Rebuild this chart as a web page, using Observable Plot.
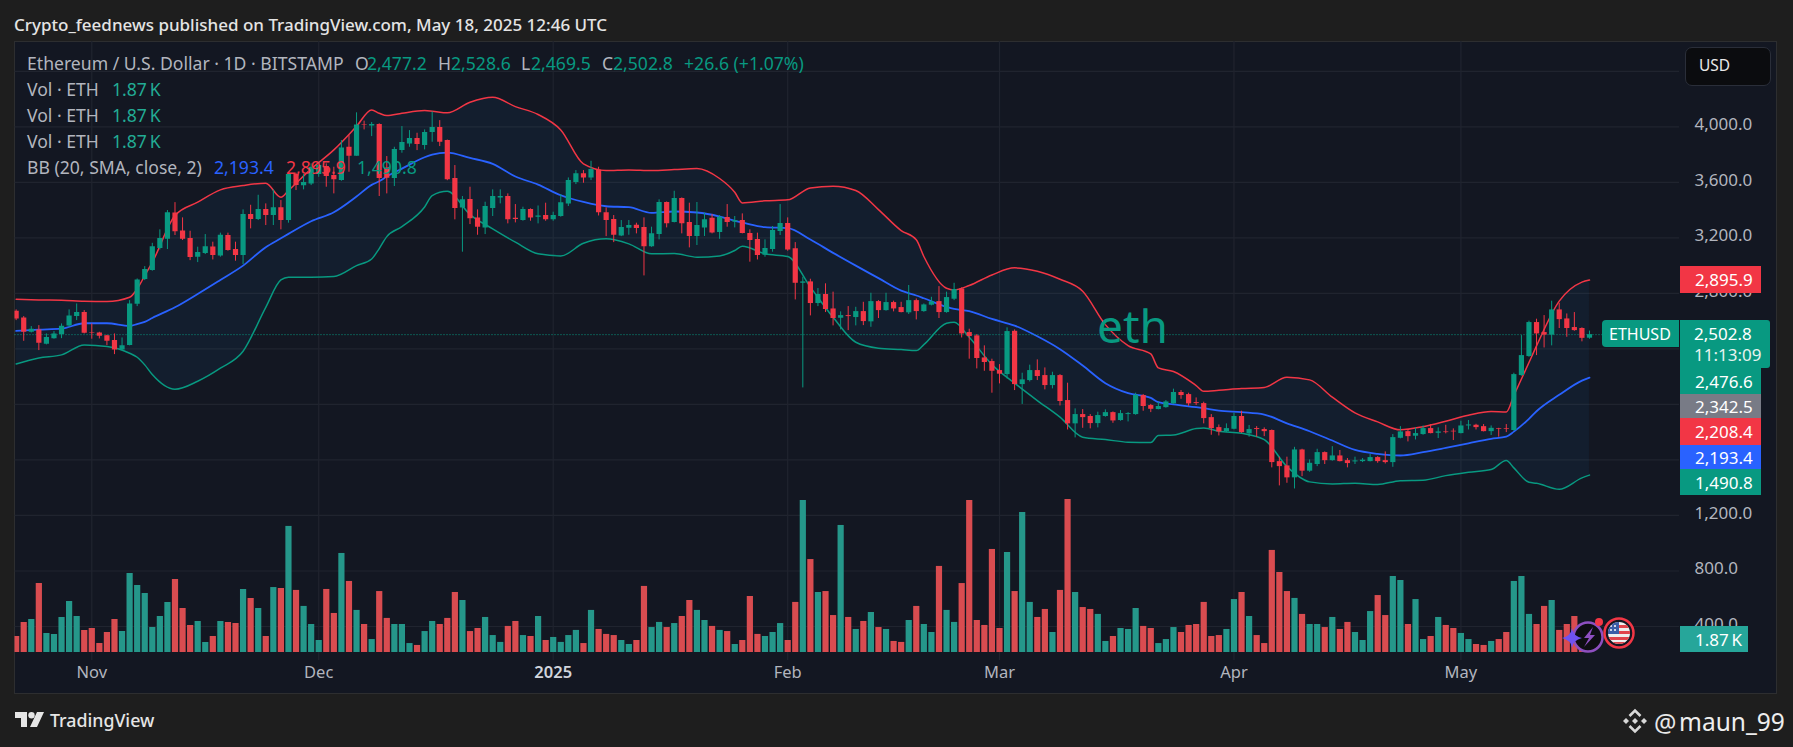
<!DOCTYPE html>
<html>
<head>
<meta charset="utf-8">
<script src="https://cdn.jsdelivr.net/npm/d3@7"></script>
<script src="https://cdn.jsdelivr.net/npm/@observablehq/plot@0.6"></script>
<style>
html,body{margin:0;padding:0;background:#1e1e1e;overflow:hidden}
#page{position:relative;width:1793px;height:747px;overflow:hidden;font-family:"Noto Sans",sans-serif;background:#1e1e1e}
#panel{position:absolute;left:14px;top:41px;width:1763px;height:653px;background:#131722;box-sizing:border-box;border:1.5px solid #2d2e30}
svg.layer{position:absolute;left:0;top:0}
.t{position:absolute;white-space:nowrap;line-height:1;transform:translateY(-50%)}
.tag{position:absolute;box-sizing:border-box;color:#fff;font-size:17px;padding-left:15px;white-space:nowrap;display:flex;align-items:center}
</style>
</head>
<body>
<div id="page"><div id="panel"></div></div>
<script>
// Daily OHLC, Oct 22 2024 to May 18 2025
const open = [
2671,2623,2520,2537,2434,2474,2503,2566,2633,2662,
2515,2515,2494,2460,2393,2424,2722,2900,2965,3123,
3190,3380,3250,3195,3061,3087,3135,3070,3217,3116,
3073,3368,3332,3404,3361,3418,3325,3656,3575,3589,
3656,3714,3649,3613,3853,3788,4014,4007,4017,3704,
3627,3829,3877,3916,3865,3959,3995,3901,3627,3416,
3476,3344,3272,3411,3488,3498,3342,3325,3404,3349,
3361,3330,3354,3445,3599,3663,3632,3690,3382,3332,
3214,3269,3291,3274,3137,3224,3455,3310,3483,3310,
3210,3272,3342,3238,3347,3315,3325,3231,3188,3075,
3116,3246,3303,3121,2873,2883,2727,2792,2688,2621,
2640,2626,2669,2595,2741,2676,2734,2698,2660,2748,
2669,2715,2741,2662,2758,2832,2518,2494,2335,2309,
2244,2215,2527,2143,2172,2244,2208,2136,2208,2028,
1860,1927,1913,1862,1913,1941,1884,1927,1927,2064,
1992,1963,1977,2004,2086,2071,2013,2006,1905,1833,
1804,1821,1913,1788,1826,1819,1812,1588,1557,1471,
1672,1519,1567,1653,1595,1629,1595,1586,1588,1588,
1617,1595,1581,1756,1804,1771,1783,1826,1792,1802,
1807,1790,1845,1850,1840,1804,1826,1826,1812,2208,
2345,2590,2518,2499,2681,2616,2554,2547,2477.2];
const high = [
2681,2633,2561,2568,2508,2525,2580,2681,2724,2676,
2580,2520,2498,2508,2479,2748,2904,2993,3161,3258,
3397,3454,3344,3248,3133,3224,3169,3234,3234,3169,
3402,3435,3507,3445,3546,3469,3666,3666,3656,3733,
3745,3733,3709,3901,3937,4101,4041,4031,4022,3786,
3853,4002,3973,3954,3978,4108,4045,3905,3721,3498,
3565,3402,3457,3546,3546,3517,3440,3421,3409,3430,
3450,3385,3512,3632,3685,3685,3752,3709,3416,3361,
3325,3325,3306,3344,3277,3474,3459,3536,3488,3450,
3455,3378,3368,3361,3440,3354,3373,3258,3234,3186,
3282,3440,3344,3166,2917,2902,2835,2869,2809,2667,
2705,2700,2736,2801,2748,2801,2744,2736,2857,2760,
2724,2772,2849,2809,2873,2840,2542,2503,2422,2326,
2287,2552,2537,2225,2283,2321,2263,2232,2215,2153,
1968,1963,1927,1944,1961,1946,1956,1941,2081,2071,
2000,2016,2028,2110,2100,2081,2047,2016,1927,1852,
1860,1937,1951,1848,1840,1831,1816,1620,1620,1691,
1677,1600,1677,1658,1696,1668,1610,1620,1610,1639,
1624,1658,1783,1840,1819,1831,1845,1855,1831,1850,
1824,1879,1884,1857,1855,1845,1828,1855,2225,2496,
2600,2614,2640,2744,2729,2652,2662,2552,2528.6];
const low = [
2604,2455,2515,2388,2429,2470,2474,2556,2604,2508,
2470,2472,2424,2359,2388,2422,2705,2892,2960,3113,
3116,3217,3181,3036,3022,3080,3041,3061,3104,3032,
3008,3265,3325,3289,3289,3258,3306,3541,3546,3577,
3637,3565,3517,3608,3673,3788,3978,3930,3498,3517,
3570,3810,3853,3829,3834,3889,3858,3612,3330,3097,
3296,3219,3224,3354,3445,3301,3308,3320,3320,3301,
3320,3320,3349,3426,3584,3594,3613,3358,3209,3166,
3209,3219,3229,2926,3132,3186,3272,3308,3229,3128,
3145,3210,3229,3190,3277,3272,3229,3025,3041,3061,
3097,3217,3104,2753,2119,2638,2705,2662,2566,2537,
2532,2566,2568,2556,2619,2672,2667,2660,2648,2609,
2664,2710,2619,2657,2748,2479,2326,2256,2239,2081,
2148,2184,2100,2000,2162,2172,2105,2112,1989,1816,
1759,1828,1824,1831,1908,1864,1879,1874,1922,1951,
1941,1961,1973,2000,2037,1987,1992,1860,1778,1773,
1797,1817,1792,1764,1764,1768,1543,1413,1432,1391,
1480,1511,1552,1567,1591,1586,1543,1567,1581,1586,
1576,1571,1547,1752,1730,1744,1778,1788,1754,1788,
1740,1788,1816,1816,1802,1776,1764,1797,1807,2203,
2340,2352,2407,2422,2547,2484,2527,2451,2469.5];
const close = [
2616,2520,2542,2441,2482,2508,2563,2638,2662,2513,
2511,2491,2455,2393,2422,2724,2897,2972,3137,3195,
3382,3245,3190,3058,3094,3137,3073,3219,3109,3073,
3368,3332,3404,3361,3418,3325,3656,3577,3599,3709,
3721,3642,3618,3848,3788,4014,4009,4017,3627,3630,
3836,3887,3916,3872,3959,3995,3889,3618,3411,3474,
3337,3277,3426,3498,3498,3330,3332,3404,3344,3358,
3330,3361,3454,3613,3663,3632,3692,3382,3325,3219,
3274,3289,3267,3137,3229,3455,3301,3483,3301,3210,
3289,3330,3236,3349,3310,3325,3231,3181,3073,3123,
3253,3303,3113,2873,2883,2727,2792,2684,2619,2640,
2633,2669,2597,2741,2676,2734,2688,2662,2748,2669,
2717,2739,2662,2770,2828,2508,2489,2331,2302,2239,
2218,2525,2143,2177,2244,2201,2136,2208,2021,1860,
1927,1905,1862,1920,1941,1881,1934,1934,2066,1985,
1965,1985,2018,2086,2064,2004,2006,1898,1826,1802,
1826,1913,1797,1819,1819,1804,1581,1552,1471,1672,
1519,1576,1653,1595,1629,1588,1574,1593,1598,1617,
1588,1581,1761,1802,1768,1790,1826,1790,1802,1797,
1802,1845,1852,1833,1804,1828,1821,1821,2215,2352,
2590,2508,2499,2681,2611,2547,2532,2476.2,2502.8];
// Volume, thousands of ETH
const volume = [
10,18.8,20.6,43.1,11.9,11.3,21.9,31.9,22.5,13.8,
15,5.6,12.5,20.6,13.1,49.4,41.9,36.9,15.6,22.5,
31.3,45.6,27.5,16.9,19.4,6.3,10,19.4,18.8,18.1,
39.4,33.8,27.5,10,40.6,40,78.8,38.8,28.8,17.5,
7.5,39.4,24.4,61.9,44.4,26.3,17.5,8.1,38.1,21.3,
17.5,17.5,5.6,4.4,13.1,19.4,17.5,21.3,37.5,32.5,
13.1,15,21.9,10.6,6.3,16.3,19.4,10.6,10,22.5,
7.5,9.4,6.3,10.6,13.8,5.6,26.3,14.4,11.3,10.6,
7.5,5,7.5,41.3,15.6,18.8,15.6,18.1,22.5,32.5,
26.3,20,16.3,13.8,13.1,5,7.5,35,11.3,10,
12.5,18.1,7.5,31.3,95,58.1,37.5,38.1,23.1,79.4,
21.9,14.4,19.4,25,15.6,14.4,6.9,6.3,20,28.8,
17.5,12.5,53.8,26.3,18.8,43.1,95,20,16.9,64.4,
15,62.5,38.1,87.5,31.3,21.9,26.9,12.5,38.8,95.6,
37.5,28.1,26.9,23.8,6.9,10,15,14.4,27.5,16.3,
15,5.6,8.1,15.6,12.5,16.9,17.5,31.3,10,10.6,
14.4,33.1,37.5,22.5,10.6,5.6,63.8,50,38.1,33.8,
23.8,17.5,17.5,15.6,21.9,14.4,18.8,12.5,7.5,25.6,
35.6,23.1,47.5,45,17.5,33.1,8.1,10,21.9,16.9,
15,11.9,8.1,5,4.4,6.9,8.1,12.5,44.4,47.5,
23.8,17.5,28.8,32.5,13.8,17.5,22.5,11.5,1.87];
// Bollinger bands, read at these bar numbers
const bbBars = [0,3,6,9,12,15,16,17,18,21,24,27,30,33,35,36,39,42,45,47,48,49,51,54,55,57,60,63,66,69,72,75,78,81,84,87,90,93,95,96,99,102,105,108,111,114,117,119,120,123,124,126,129,132,135,138,141,144,147,150,151,153,156,157,159,162,165,168,171,174,177,180,183,186,189,192,195,197,198,200,201,204,207,208];
const bbUpper = [2758,2753,2751,2743,2741,2772,2832,2928,3024,3361,3457,3546,3577,3594,3493,3541,3697,3834,4004,4122,4098,4081,4098,4117,4113,4101,4177,4213,4146,4089,3978,3733,3685,3690,3685,3692,3700,3628,3529,3452,3467,3474,3560,3572,3541,3404,3253,3186,3066,2837,2825,2857,2933,2984,2960,2902,2816,2575,2424,2364,2263,2237,2136,2095,2102,2114,2122,2196,2177,2052,1939,1874,1817,1840,1879,1922,1949,1946,2064,2302,2422,2744,2881,2895.9];
const bbMiddle = [2530,2539,2546,2585,2585,2566,2579,2595,2623,2700,2796,2897,3000,3133,3197,3229,3320,3385,3498,3582,3608,3642,3699,3781,3800,3815,3776,3733,3642,3584,3507,3459,3428,3421,3380,3390,3383,3354,3322,3310,3277,3270,3188,3092,3000,2910,2820,2785,2765,2703,2688,2672,2616,2568,2491,2398,2280,2153,2081,2047,2016,2000,1980,1973,1956,1944,1927,1864,1807,1740,1672,1644,1632,1656,1687,1720,1752,1768,1804,1896,1951,2069,2172,2193.4];
const bbLower = [2292,2335,2357,2429,2417,2369,2340,2285,2215,2109,2167,2261,2383,2700,2897,2916,2916,2921,3000,3048,3123,3209,3281,3423,3505,3536,3368,3265,3169,3085,3070,3161,3193,3157,3085,3087,3061,3070,3109,3140,3085,3066,2845,2628,2448,2405,2395,2388,2431,2585,2592,2484,2287,2153,2028,1908,1764,1747,1728,1725,1776,1780,1826,1831,1807,1792,1747,1552,1442,1427,1432,1423,1451,1454,1487,1511,1531,1596,1543,1439,1432,1389,1471,1490.8];
// Axis ticks
const priceTicks = [4000,3600,3200,2800,2400,2000,1600,1200,800,400];
const gridTicks = [4400].concat(priceTicks);
const lastPrice = 2502.8;
const monthNames = {"10":"Nov","11":"Dec","1":"Feb","2":"Mar","3":"Apr","4":"May"};
const monthTicks = [new Date(Date.UTC(2024,10,1)),new Date(Date.UTC(2024,11,1)),new Date(Date.UTC(2025,1,1)),new Date(Date.UTC(2025,2,1)),new Date(Date.UTC(2025,3,1)),new Date(Date.UTC(2025,4,1))];
const yearTicks = [new Date(Date.UTC(2025,0,1))];

const FONT = '"Noto Sans",sans-serif';
const GREEN = "#089981", RED = "#f23645", BLUE = "#2962ff", VGREEN = "#25978a", VRED = "#d94c50", GRID = "#20242f", AXIS = "#b2b5be";
const day = i => new Date(Date.UTC(2024,9,22) + i*864e5);
const bars = open.map((o,i)=>({date:day(i),open:o,high:high[i],low:low[i],close:close[i],vol:volume[i],up:close[i]>=o}));
const bands = bbBars.map((b,i)=>({date:day(b),u:bbUpper[i],m:bbMiddle[i],l:bbLower[i]}));
const xDomain = [day(-0.152), day(219.9)];
const colorOf = (a,b)=>d=>d.up?a:b;
const CURVE = "monotone-x";

const pricePlot = Plot.plot({
  width:1793,height:747,
  marginLeft:14.5,marginRight:114,marginTop:41,marginBottom:87,
  x:{type:"utc",domain:xDomain,axis:null},
  y:{domain:[155,4615],axis:null},
  style:{background:"transparent",fontFamily:FONT},
  marks:[
    Plot.ruleY(gridTicks,{stroke:GRID,strokeWidth:1.2}),
    Plot.ruleX(monthTicks.concat(yearTicks),{stroke:GRID,strokeWidth:1.2}),
    Plot.axisY(priceTicks,{anchor:"right",tickSize:0,tickPadding:15,fontSize:17,color:AXIS,label:null,dy:-2,tickFormat:d3.format(",.1f")}),
    Plot.axisX(monthTicks,{anchor:"bottom",tickSize:0,tickPadding:6,fontSize:16.5,color:AXIS,label:null,tickFormat:d=>monthNames[d.getUTCMonth()]}),
    Plot.axisX(yearTicks,{anchor:"bottom",tickSize:0,tickPadding:6,fontSize:16.5,fontWeight:600,color:"#d1d4dc",label:null,tickFormat:d=>String(d.getUTCFullYear())}),
    Plot.areaY(bands,{x:"date",y1:"l",y2:"u",fill:"#2196f3",fillOpacity:0.06,curve:CURVE}),
    Plot.lineY(bands,{x:"date",y:"u",stroke:RED,strokeWidth:1.5,curve:CURVE}),
    Plot.lineY(bands,{x:"date",y:"m",stroke:BLUE,strokeWidth:1.8,curve:CURVE}),
    Plot.lineY(bands,{x:"date",y:"l",stroke:GREEN,strokeWidth:1.5,curve:CURVE}),
    Plot.ruleY([lastPrice],{stroke:GREEN,strokeWidth:1,strokeDasharray:"1,2"}),
    Plot.ruleX(bars,{x:"date",y1:"low",y2:"high",stroke:colorOf(GREEN,RED),strokeWidth:1,clip:true}),
    Plot.ruleX(bars,{x:"date",y1:"open",y2:"close",stroke:colorOf(GREEN,RED),strokeWidth:5.2,clip:true})
  ]
});
pricePlot.classList.add("layer");

const volumePlot = Plot.plot({
  width:1793,height:747,
  marginLeft:14.5,marginRight:114,marginTop:492,marginBottom:95,
  x:{type:"utc",domain:xDomain,axis:null},
  y:{domain:[0,100],axis:null},
  style:{background:"transparent",fontFamily:FONT},
  marks:[
    Plot.ruleX(bars,{x:"date",y1:0,y2:"vol",stroke:colorOf(VGREEN,VRED),strokeWidth:6.2,clip:true})
  ]
});
volumePlot.classList.add("layer");

const page = document.getElementById("page");
page.appendChild(pricePlot);
page.appendChild(volumePlot);

function text(str,x,y,size,color,extra){
  const d=document.createElement("div");d.className="t";d.textContent=str;
  d.style.left=x+"px";d.style.top=y+"px";d.style.fontSize=size+"px";d.style.color=color;
  if(extra)Object.assign(d.style,extra);page.appendChild(d);return d;
}
function tag(str,x,y,w,h,bg,extra){
  const d=document.createElement("div");d.className="tag";d.textContent=str;
  Object.assign(d.style,{left:x+"px",top:y+"px",width:w+"px",height:h+"px",background:bg},extra||{});
  page.appendChild(d);return d;
}
const LG="#b2b5be", VV="#22ab94", LF=17.6;
text("Crypto_feednews published on TradingView.com, May 18, 2025 12:46 UTC",14,23.5,17,"#e4e4e4",{fontWeight:500});
text("Ethereum / U.S. Dollar · 1D · BITSTAMP",27,64,LF,LG);
[["O",355,LG],["2,477.2",367,GREEN],["H",438,LG],["2,528.6",451,GREEN],["L",521,LG],["2,469.5",531,GREEN],["C",602,LG],["2,502.8",613,GREEN],["+26.6 (+1.07%)",684,GREEN]].forEach(r=>text(r[0],r[1],64,LF,r[2]));
[90,116,142].forEach(y=>{text("Vol · ETH",27,y,LF,LG);text("1.87\u2009K",112,y,LF,VV);});
text("BB (20, SMA, close, 2)",27,168,LF,LG);
text("2,193.4",214,168,LF,BLUE);text("2,895.9",286,168,LF,RED);text("1,490.8",357,168,LF,GREEN);
text("eth",1097,325,46,GREEN);

// USD button
const usd=document.createElement("div");
Object.assign(usd.style,{position:"absolute",left:"1685px",top:"47px",width:"86px",height:"39px",boxSizing:"border-box",background:"#0b0c0f",border:"1.5px solid #2a2e39",borderRadius:"7px"});
page.appendChild(usd);
text("USD",1699,65.5,15.5,"#e8e8e8");

// Price tags
tag("2,895.9",1680,266,81,27,RED);
tag("ETHUSD",1602,320,77,27,GREEN,{borderRadius:"4px 0 0 4px",paddingLeft:"7px",fontSize:"16px"});
tag("",1680,320,90,48,GREEN,{display:"block",borderRadius:"0 3px 3px 0"});
text("2,502.8",1694,333,17,"#fff");text("11:13:09",1694,354,17,"#e6f3ef");
tag("2,476.6",1680,368,81,26,GREEN);
tag("2,342.5",1680,394,81,24,"#787b86");
tag("2,208.4",1680,418,81,27,RED);
tag("2,193.4",1680,445,81,24,BLUE);
tag("1,490.8",1680,469,81,26,GREEN);
tag("1.87\u2009K",1680,626,68,26,"#26a69a");

// Footer and chart badges
const NS="http://www.w3.org/2000/svg";
function icon(html,x,y,w,h){
  const s=document.createElementNS(NS,"svg");
  s.setAttribute("width",w);s.setAttribute("height",h);s.setAttribute("viewBox","0 0 "+w+" "+h);
  s.style.position="absolute";s.style.left=x+"px";s.style.top=y+"px";s.innerHTML=html;page.appendChild(s);
}
icon('<path d="M0 0H12V15H6V6H0Z" fill="#e6e6e6"/><circle cx="16.5" cy="3.2" r="3.2" fill="#e6e6e6"/><path d="M22 0H29L22 15H15Z" fill="#e6e6e6"/>',15,712,30,16);
text("TradingView",50,721,17.8,"#e6e6e6",{fontWeight:500});
icon('<g fill="none" stroke="#d8d8d8" stroke-width="2.6" stroke-linejoin="miter"><path d="M8.5 9L14 3.5L19.5 9"/><path d="M8.5 19L14 24.5L19.5 19"/></g><g fill="#d8d8d8"><path d="M14 11L17 14L14 17L11 14Z"/><path d="M5 11L8 14L5 17L2 14Z"/><path d="M23 11L26 14L23 17L20 14Z"/></g>',1621,707,28,28);
text("@",1654,722,25,"#e8e8e8");
text("maun_99",1679,722,24.5,"#eeeeee");
icon('<circle cx="26" cy="21" r="14.5" fill="#0d0d12" stroke="#8e4fc0" stroke-width="2.5"/><path d="M31 11L22 22H27L22 31L33 19H28Z" fill="#8e4fc0"/><path d="M10 12Q11 20 20 22Q11 24 10 32Q9 24 0 22Q9 20 10 12Z" fill="#6e52f0"/><circle cx="37" cy="6" r="4" fill="#f23645"/>',1562,616,46,38);
icon('<circle cx="16" cy="17" r="14.5" fill="#131722" stroke="#f23645" stroke-width="2.5"/><clipPath id="c"><circle cx="16" cy="17" r="11"/></clipPath><g clip-path="url(#c)"><rect x="0" y="5" width="32" height="26" fill="#eee"/><g fill="#e0444c"><rect x="0" y="9" width="32" height="3"/><rect x="0" y="15" width="32" height="3"/><rect x="0" y="21" width="32" height="3"/><rect x="0" y="26" width="32" height="2.5"/></g><rect x="0" y="5" width="16" height="13" fill="#3a5ea8"/><g fill="#fff"><circle cx="8" cy="10" r="1"/><circle cx="12" cy="10" r="1"/><circle cx="8" cy="14" r="1"/><circle cx="12" cy="14" r="1"/></g></g>',1603,616,32,33);
</script>
</body>
</html>
